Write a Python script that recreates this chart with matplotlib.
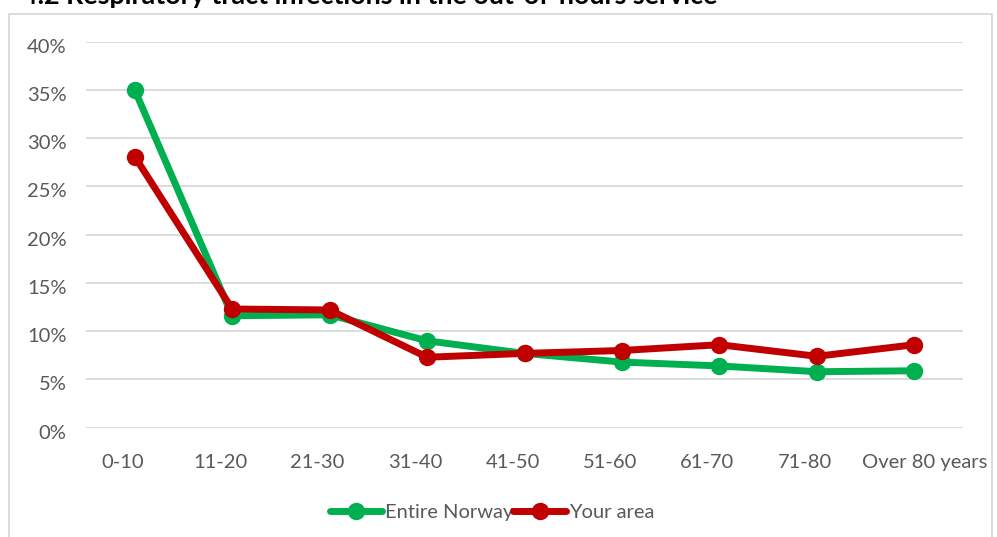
import matplotlib
matplotlib.use("Agg")
from matplotlib import pyplot as plt
from matplotlib.patches import Rectangle
from matplotlib.ticker import FuncFormatter, MultipleLocator
import matplotlib.transforms as mtransforms

plt.rcParams['font.family'] = ['Lato', 'DejaVu Sans']

# Data (share of consultations, %)
age_groups = ['0-10', '11-20', '21-30', '31-40', '41-50', '51-60', '61-70', '71-80', 'Over 80 years']
entire_norway = [35.0, 11.6, 11.7, 9.0, 7.7, 6.8, 6.4, 5.8, 5.9]
your_area = [28.1, 12.3, 12.2, 7.3, 7.7, 8.0, 8.6, 7.4, 8.6]

title = '4.2 Respiratory tract infections in the out-of-hours service'

green = '#00B050'
red = '#C00000'
grey_txt = '#595959'
grid_col = '#D9D9D9'

W, H = 997, 537
fig = plt.figure(figsize=(W / 100, H / 100), dpi=100)

# chart frame (light grey border, bottom runs off the picture)
fig.patches.append(Rectangle((8.5 / W, -0.05), (991.5 - 8.5) / W, 1.05 - 14 / H,
                             transform=fig.transFigure, fill=False,
                             edgecolor=grid_col, linewidth=1.3))

# title is cut by the top edge in the original, kept the same way
fig.text(22 / W, 1 - 4 / H, title, fontsize=19.4, fontweight='bold',
         color='black', va='baseline', ha='left')

ax = fig.add_axes([86 / W, 1 - 427.7 / H, (963 - 86) / W, (427.7 - 41.7) / H])

x = list(range(len(age_groups)))
ax.plot(x, entire_norway, color=green, lw=5, marker='o', ms=11.5,
        solid_capstyle='round', label='Entire Norway', zorder=3)
ax.plot(x, your_area, color=red, lw=5, marker='o', ms=11.5,
        solid_capstyle='round', label='Your area', zorder=4)

ax.set_xlim(-0.5, len(age_groups) - 0.5)
ax.set_ylim(0, 40)
ax.yaxis.set_major_locator(MultipleLocator(5))
ax.yaxis.set_major_formatter(FuncFormatter(lambda v, p: f'{v:.0f}%'))
ax.grid(axis='y', color=grid_col, lw=1.3)
ax.set_axisbelow(True)
for s in ax.spines.values():
    s.set_visible(False)
ax.tick_params(length=0, labelsize=14.5, labelcolor=grey_txt)
ax.tick_params(axis='y', pad=14)
ax.tick_params(axis='x', pad=19)
ax.set_xticks(x)
ax.set_xticklabels(age_groups)

# y labels sit slightly below their gridlines
for lab in ax.get_yticklabels():
    lab.set_transform(lab.get_transform() + mtransforms.ScaledTranslation(0, -4 / 100, fig.dpi_scale_trans))

# category labels sit a little left of the markers in the original
for i, lab in enumerate(ax.get_xticklabels()):
    dx = -12 / 100 if i < len(age_groups) - 1 else 10 / 100
    lab.set_transform(lab.get_transform() + mtransforms.ScaledTranslation(dx, 0, fig.dpi_scale_trans))

leg = ax.legend(loc='center', bbox_to_anchor=(492 / W, 1 - 512 / H),
                bbox_transform=fig.transFigure, ncol=2, frameon=False,
                fontsize=14.5, handlelength=2.6, handletextpad=0.15,
                columnspacing=0.0, labelcolor=grey_txt)

fig.savefig('out.png', dpi=100)
